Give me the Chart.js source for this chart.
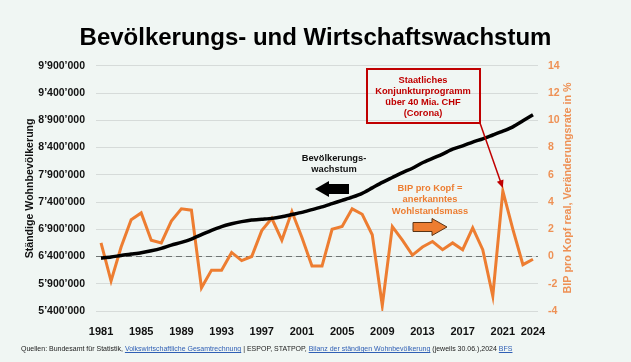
<!DOCTYPE html>
<html lang="de">
<head>
<meta charset="utf-8">
<title>Bevölkerungs- und Wirtschaftswachstum</title>
<script src="https://cdn.jsdelivr.net/npm/chart.js@4.4.1/dist/chart.umd.min.js"></script>
<style>
  html, body { margin: 0; padding: 0; background: #f0f6f3; }
  #wrap { position: relative; width: 631px; height: 362px; }
  #footer {
    position: absolute; left: 21px; top: 345px;
    font: 7px 'Liberation Sans', Arial, sans-serif; color: #222; white-space: nowrap;
  }
  #footer a { color: #2f5fb5; text-decoration: underline; }
</style>
</head>
<body>
<div id="wrap">
  <canvas id="chart" width="631" height="362"></canvas>
  <div id="footer">Quellen: Bundesamt für Statistik, <a href="#">Volkswirtschaftliche Gesamtrechnung</a> | ESPOP, STATPOP, <a href="#">Bilanz der ständigen Wohnbevölkerung</a> (jeweils 30.06.),2024 <a href="#">BFS</a></div>
</div>
<script>
// Jahre (Kategorien)
const years = ['1981', '1982', '1983', '1984', '1985', '1986', '1987', '1988', '1989', '1990',
  '1991', '1992', '1993', '1994', '1995', '1996', '1997', '1998', '1999', '2000',
  '2001', '2002', '2003', '2004', '2005', '2006', '2007', '2008', '2009', '2010',
  '2011', '2012', '2013', '2014', '2015', '2016', '2017', '2018', '2019', '2020',
  '2021', '2022', '2023', '2024'];

// Ständige Wohnbevölkerung (linke Achse)
const population = [6370000, 6390000, 6420000, 6445000, 6470000, 6505000, 6550000, 6610000, 6660000, 6720000,
  6800000, 6880000, 6950000, 7000000, 7040000, 7070000, 7085000, 7100000, 7130000, 7170000,
  7210000, 7260000, 7310000, 7370000, 7430000, 7490000, 7560000, 7660000, 7760000, 7850000,
  7940000, 8020000, 8120000, 8200000, 8280000, 8370000, 8430000, 8500000, 8560000, 8630000,
  8700000, 8780000, 8890000, 9000000];

// BIP pro Kopf real, Veränderung in % (rechte Achse)
const gdpPerCapita = [1.0, -1.8, 0.7, 2.7, 3.2, 1.2, 1.0, 2.6, 3.5, 3.4,
  -2.3, -1.0, -1.0, 0.3, -0.3, 0.0, 1.9, 2.8, 1.2, 3.3,
  1.4, -0.7, -0.7, 2.0, 2.2, 3.5, 3.1, 1.6, -3.6, 2.2,
  1.2, 0.1, 0.7, 1.1, 0.5, 1.0, 0.5, 2.1, 0.5, -2.9,
  4.8, 2.0, -0.6, -0.2];

// beschriftete Jahre auf der x-Achse
const yearTicks = ['1981', '1985', '1989', '1993', '1997', '2001', '2005', '2009', '2013', '2017', '2021', '2024'];

const ORANGE = '#ed7d31';
const ORANGE_LIGHT = '#ee9155';
const RED = '#c00000';
const FONT = "'Liberation Sans', Arial, sans-serif";

Chart.defaults.font.family = FONT;

function formatSwiss(v) {
  return String(v).replace(/\B(?=(\d{3})+(?!\d))/g, '\u2019');
}

function blockArrow(ctx, tipX, tailX, yc, shaftH, headH, headLen, fill, stroke) {
  const dir = tailX > tipX ? 1 : -1;
  const neck = tipX + dir * headLen;
  ctx.beginPath();
  ctx.moveTo(tipX, yc);
  ctx.lineTo(neck, yc - headH / 2);
  ctx.lineTo(neck, yc - shaftH / 2);
  ctx.lineTo(tailX, yc - shaftH / 2);
  ctx.lineTo(tailX, yc + shaftH / 2);
  ctx.lineTo(neck, yc + shaftH / 2);
  ctx.lineTo(neck, yc + headH / 2);
  ctx.closePath();
  ctx.fillStyle = fill;
  ctx.fill();
  if (stroke) {
    ctx.strokeStyle = stroke;
    ctx.lineWidth = 1;
    ctx.stroke();
  }
}

// Nulllinie (gestrichelt) auf der rechten Achse
const zeroLine = {
  id: 'zeroLine',
  beforeDatasetsDraw(chart) {
    const { ctx, chartArea, scales } = chart;
    const y = scales.y1.getPixelForValue(0);
    ctx.save();
    ctx.strokeStyle = '#6f7473';
    ctx.lineWidth = 1.2;
    ctx.setLineDash([6, 4]);
    ctx.beginPath();
    ctx.moveTo(chartArea.left, y);
    ctx.lineTo(chartArea.right, y);
    ctx.stroke();
    ctx.restore();
  }
};

// Texte, Kasten und Pfeile
const annotations = {
  id: 'annotations',
  afterDraw(chart) {
    const { ctx, scales } = chart;
    ctx.save();

    // rechte Achsenbeschriftung (von unten nach oben)
    ctx.save();
    ctx.translate(568, 188);
    ctx.rotate(-Math.PI / 2);
    ctx.fillStyle = ORANGE_LIGHT;
    ctx.font = 'bold 10.8px ' + FONT;
    ctx.textAlign = 'center';
    ctx.textBaseline = 'middle';
    ctx.fillText('BIP pro Kopf real, Veränderungsrate in %', 0, 0);
    ctx.restore();

    ctx.textAlign = 'center';
    ctx.textBaseline = 'middle';
    ctx.font = 'bold 9.3px ' + FONT;

    // roter Kasten Corona
    ctx.strokeStyle = RED;
    ctx.lineWidth = 2;
    ctx.strokeRect(367, 69, 113, 54);
    ctx.fillStyle = RED;
    ['Staatliches', 'Konjunkturprogramm', 'über 40 Mia. CHF', '(Corona)'].forEach((t, i) => {
      ctx.fillText(t, 423, 80 + i * 11.2);
    });

    // roter Pfeil auf 2021
    const tipX = scales.x.getPixelForValue(40);
    const tipY = scales.y1.getPixelForValue(gdpPerCapita[40]) - 3;
    const fromX = 480, fromY = 123;
    const ang = Math.atan2(tipY - fromY, tipX - fromX);
    ctx.strokeStyle = RED;
    ctx.lineWidth = 1.5;
    ctx.beginPath();
    ctx.moveTo(fromX, fromY);
    ctx.lineTo(tipX - 6 * Math.cos(ang), tipY - 6 * Math.sin(ang));
    ctx.stroke();
    ctx.beginPath();
    ctx.moveTo(tipX, tipY);
    ctx.lineTo(tipX - 8 * Math.cos(ang) + 3.5 * Math.sin(ang), tipY - 8 * Math.sin(ang) - 3.5 * Math.cos(ang));
    ctx.lineTo(tipX - 8 * Math.cos(ang) - 3.5 * Math.sin(ang), tipY - 8 * Math.sin(ang) + 3.5 * Math.cos(ang));
    ctx.closePath();
    ctx.fill();

    // Bevölkerungswachstum
    ctx.fillStyle = '#111';
    ctx.fillText('Bevölkerungs-', 334, 158);
    ctx.fillText('wachstum', 334, 169);
    blockArrow(ctx, 315, 349, 189, 10, 16, 14, '#000', null);

    // BIP pro Kopf
    ctx.fillStyle = ORANGE;
    ctx.fillText('BIP pro Kopf =', 430, 188);
    ctx.fillText('anerkanntes', 430, 199.5);
    ctx.fillText('Wohlstandsmass', 430, 211);
    blockArrow(ctx, 447, 413, 227, 9, 17, 15, ORANGE, '#5a3414');

    ctx.restore();
  }
};

new Chart(document.getElementById('chart'), {
  type: 'line',
  data: {
    labels: years,
    datasets: [
      {
        label: 'Ständige Wohnbevölkerung',
        data: population,
        yAxisID: 'y',
        borderColor: '#000',
        borderWidth: 3.5,
        pointRadius: 0,
        tension: 0.25,
        order: 1
      },
      {
        label: 'BIP pro Kopf real',
        data: gdpPerCapita,
        yAxisID: 'y1',
        borderColor: ORANGE,
        borderWidth: 3,
        pointRadius: 0,
        tension: 0,
        order: 2
      }
    ]
  },
  options: {
    responsive: false,
    animation: false,
    layout: { padding: { left: 0, right: 0, top: 0, bottom: 26 } },
    plugins: {
      legend: { display: false },
      tooltip: { enabled: false },
      title: {
        display: true,
        text: 'Bevölkerungs- und Wirtschaftswachstum',
        color: '#000',
        font: { size: 24, weight: 'bold' },
        padding: { top: 24, bottom: 13 }
      }
    },
    scales: {
      x: {
        type: 'category',
        offset: true,
        grid: { display: false },
        border: { display: false },
        ticks: {
          autoSkip: false,
          maxRotation: 0,
          minRotation: 0,
          padding: 6,
          color: '#111',
          font: { size: 11, weight: 'bold' },
          callback(value) {
            const l = this.getLabelForValue(value);
            return yearTicks.includes(l) ? l : '';
          }
        },
        afterFit(scale) { scale.height = 25; }
      },
      y: {
        position: 'left',
        min: 5400000,
        max: 9900000,
        grid: { color: '#d6dbd9', drawTicks: false },
        border: { display: false },
        ticks: {
          stepSize: 500000,
          padding: 11,
          color: '#111',
          font: { size: 10.5, weight: 'bold' },
          callback: (v) => formatSwiss(v)
        },
        title: {
          display: true,
          text: 'Ständige Wohnbevölkerung',
          color: '#111',
          font: { size: 10.6, weight: 'bold' },
          padding: { top: 24, bottom: 0 }
        },
        afterFit(scale) { scale.width = 96; }
      },
      y1: {
        position: 'right',
        min: -4,
        max: 14,
        grid: { display: false, drawTicks: false },
        border: { display: false },
        ticks: {
          stepSize: 2,
          padding: 10,
          color: ORANGE_LIGHT,
          font: { size: 10.5, weight: 'bold' }
        },
        afterFit(scale) { scale.width = 93; }
      }
    }
  },
  plugins: [zeroLine, annotations]
});
</script>
</body>
</html>
